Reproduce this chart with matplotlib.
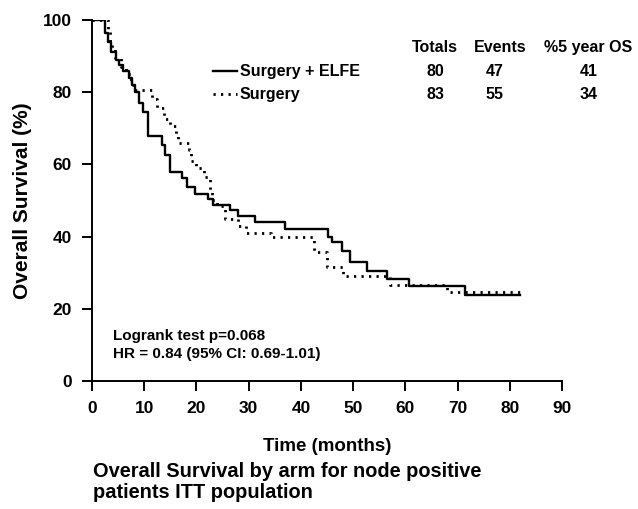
import numpy as np
import matplotlib.pyplot as plt

plt.rcParams['font.family'] = ['Liberation Sans', 'DejaVu Sans']
plt.rcParams['font.weight'] = 'bold'

# Kaplan-Meier steps (months, % surviving after step)
elfe_t = [0, 2.4, 3.0, 3.6, 4.5, 5.2, 6.0, 7.0, 7.6, 8.3, 9.0, 9.7, 10.7,
          13.4, 14.0, 14.9, 17.2, 18.1, 19.7, 22.2, 23.2, 26.4, 28.0, 31.2,
          37.0, 45.2, 46.0, 47.9, 49.4, 52.7, 56.5, 60.7, 71.5, 82.0]
elfe_s = [100, 96.5, 94, 91, 89, 87.5, 86, 84, 82, 80, 77, 74.5, 67.8,
          65.4, 62.6, 58, 56.2, 53.8, 51.8, 50.5, 48.8, 47.4, 45.7, 44.1,
          42.0, 40.0, 38.6, 36.0, 33.1, 30.6, 28.3, 26.3, 23.8, 23.8]

surg_t = [0, 3.1, 3.5, 3.9, 4.4, 5.5, 6.5, 7.5, 8.0, 11.5, 12.5, 13.8, 15.0,
          16.0, 16.5, 18.5, 19.0, 20.0, 21.5, 22.5, 23.0, 24.0, 25.5, 28.0,
          29.5, 34.3, 42.5, 45.0, 48.1, 57.0, 68.0, 82.4]
surg_s = [100, 97, 94, 92, 89.5, 87, 85, 82, 80.5, 78, 75.5, 72.5, 70.5,
          68.5, 66, 64, 61, 59, 56.5, 53, 50, 48.5, 44.8, 43, 41, 39.8,
          35.8, 31.7, 29.1, 26.6, 24.7, 24.7]

arms = ['Surgery + ELFE', 'Surgery']
totals = [80, 83]
events = [47, 55]
os5 = [41, 34]
headers = ['Totals', 'Events', '%5 year OS']

fig = plt.figure(figsize=(6.38, 5.09), dpi=100)
ax = fig.add_axes([0.1442, 0.2515, 0.7367, 0.7092])

dotted = (0, (0.8, 1.9))
ax.step(elfe_t, elfe_s, where='post', color='black', lw=1.7)
ax.step(surg_t, surg_s, where='post', color='black', lw=2.0, linestyle=dotted)

ax.set_xlim(0, 90)
ax.set_ylim(0, 100)
ax.set_xticks(np.arange(0, 91, 10))
ax.set_yticks(np.arange(0, 101, 20))
for s in ['top', 'right']:
    ax.spines[s].set_visible(False)
for s in ['left', 'bottom']:
    ax.spines[s].set_linewidth(1.4)
ax.tick_params(direction='out', length=7.5, width=1.4, pad=7, labelsize=12.5)
for lab in ax.get_xticklabels() + ax.get_yticklabels():
    lab.set_fontweight('bold')

ax.set_xlabel('Time (months)', fontsize=13.5, fontweight='bold', labelpad=16)
ax.set_ylabel('Overall Survival (%)', fontsize=15, fontweight='bold', labelpad=8)

# table-like legend
hx = [0.730, 0.868, 0.962]
hha = ['center', 'center', 'left']
for x, h, a in zip(hx, headers, hha):
    ax.text(x, 0.925, h, transform=ax.transAxes, ha=a, va='center',
            fontsize=11.5, fontweight='bold')
nx = [0.730, 0.857, 1.057]
rows_y = [0.858, 0.795]
styles = ['-', dotted]
lws = [1.7, 2.0]
for i in range(2):
    ax.plot([0.258, 0.308], [rows_y[i], rows_y[i]], transform=ax.transAxes,
            color='black', lw=lws[i], linestyle=styles[i], clip_on=False)
    ax.text(0.314, rows_y[i], arms[i], transform=ax.transAxes, ha='left',
            va='center', fontsize=11.5, fontweight='bold')
    for x, v in zip(nx, [totals[i], events[i], os5[i]]):
        ax.text(x, rows_y[i], str(v), transform=ax.transAxes, ha='center',
                va='center', fontsize=11.5, fontweight='bold')

ax.text(0.045, 0.125, 'Logrank test p=0.068', transform=ax.transAxes,
        fontsize=11, fontweight='bold', va='center')
ax.text(0.045, 0.075, 'HR = 0.84 (95% CI: 0.69-1.01)', transform=ax.transAxes,
        fontsize=11, fontweight='bold', va='center')

fig.text(0.146, 0.092, 'Overall Survival by arm for node positive\npatients ITT population',
         fontsize=14.4, fontweight='bold', ha='left', va='top', linespacing=1.1)

fig.savefig('out.png', dpi=100)
